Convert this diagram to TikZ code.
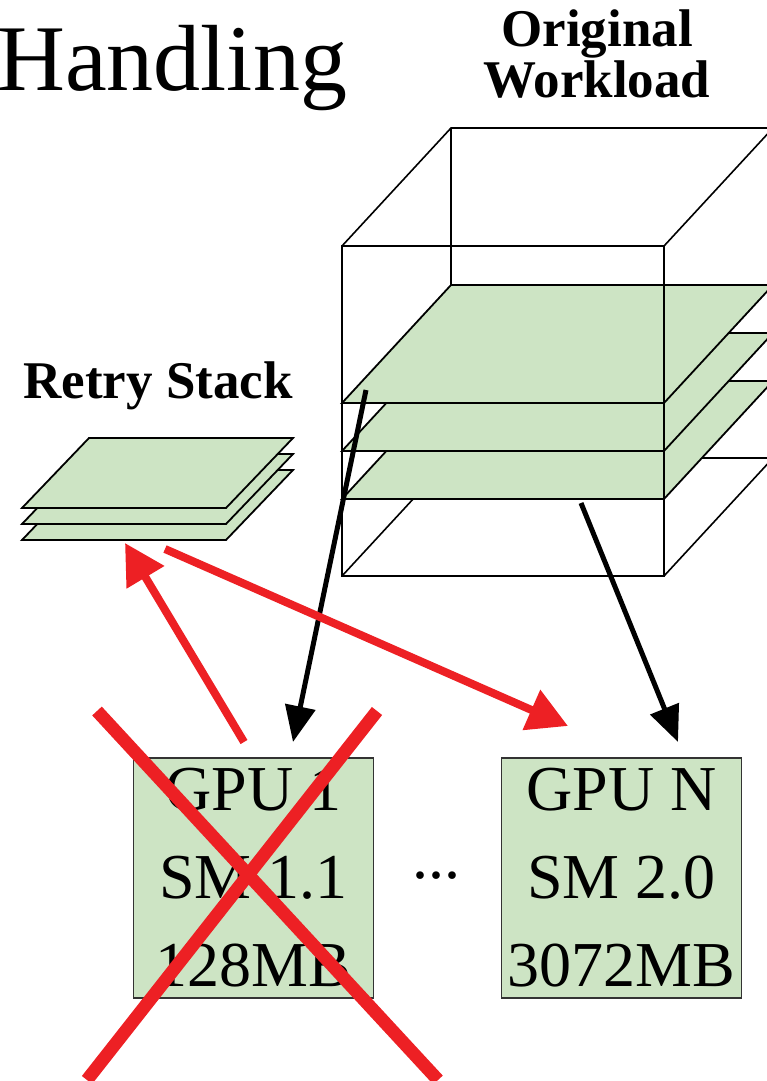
\documentclass[tikz,border=0pt]{standalone}
\usepackage{fontspec}
\setmainfont{Liberation Serif}
\usetikzlibrary{arrows.meta}

\definecolor{slabgreen}{RGB}{205,228,196}
\definecolor{failred}{RGB}{237,32,36}

\begin{document}
\begin{tikzpicture}[x=1pt, y=-1pt,
  wire/.style={draw=black, line width=1.6pt},
  slab/.style={draw=black, line width=1.8pt, fill=slabgreen},
  gpu/.style={draw=black!80, line width=1.2pt, fill=slabgreen, minimum width=240pt, minimum height=240pt,
    inner sep=0pt, align=center, font=\fontsize{64}{88}\selectfont},
  head/.style={font=\bfseries\fontsize{53}{51}\selectfont, align=center, inner sep=0pt},
  feed/.style={-{Triangle[length=36pt, width=30pt]}, line width=5pt},
  retry/.style={-{Triangle[length=40pt, width=42pt]}, line width=8pt, draw=failred},
  cross/.style={draw=failred, line width=13pt}]
\useasboundingbox (0,0) rectangle (766,1081);

% titles
\node[anchor=base west, inner sep=0pt, font=\fontsize{94}{100}\selectfont] (title) at (-3,90) {Handling};
\node[head, anchor=north] (work) at (597,10) {Original\\Workload};
\node[head, anchor=base] (stack) at (158,398) {Retry Stack};

% workload cube, hidden edges first
\draw[wire] (342,246) -- (451,128) -- (773,128) -- (664,246);
\draw[wire] (451,128) -- (451,458) -- (773,458) -- (773,128);
\draw[wire] (342,576) -- (451,458);
\draw[wire] (664,576) -- (773,458);
\foreach \yf in {499,451,403}
  \draw[slab] (342,\yf) -- (664,\yf) -- (773,\yf-118) -- (451,\yf-118) -- cycle;
\draw[wire] (342,246) rectangle (664,576);

% retry stack
\foreach \yf in {540,524,508}
  \draw[slab] (22,\yf) -- (226,\yf) -- (293,\yf-70) -- (89,\yf-70) -- cycle;

% gpus
\node[gpu] (gpu1) at (253.5,878) {GPU 1\\SM 1.1\\128MB};
\node[gpu] (gpuN) at (621.5,878) {GPU N\\SM 2.0\\3072MB};
\node[inner sep=0pt, font=\fontsize{64}{88}\selectfont] (dots) at (436,876) {...};

\coordinate (topSlab) at (366,390);
\coordinate (lowSlab) at (581,503);
\coordinate (gpu1In) at (293,742);
\coordinate (gpuNIn) at (678,742);
\coordinate (gpu1Out) at (244,742);
\coordinate (gpuNRetry) at (568,726);
\coordinate (stackIn) at (125,543);
\coordinate (stackOut) at (165,549);

\draw[feed] (topSlab) -- (gpu1In);
\draw[feed] (lowSlab) -- (gpuNIn);
\draw[retry] (gpu1Out) -- (stackIn);
\draw[retry] (stackOut) -- (gpuNRetry);

% failed gpu
\draw[cross] (97,711) -- (438,1080);
\draw[cross] (377,711) -- (87,1080);
\end{tikzpicture}
\end{document}
